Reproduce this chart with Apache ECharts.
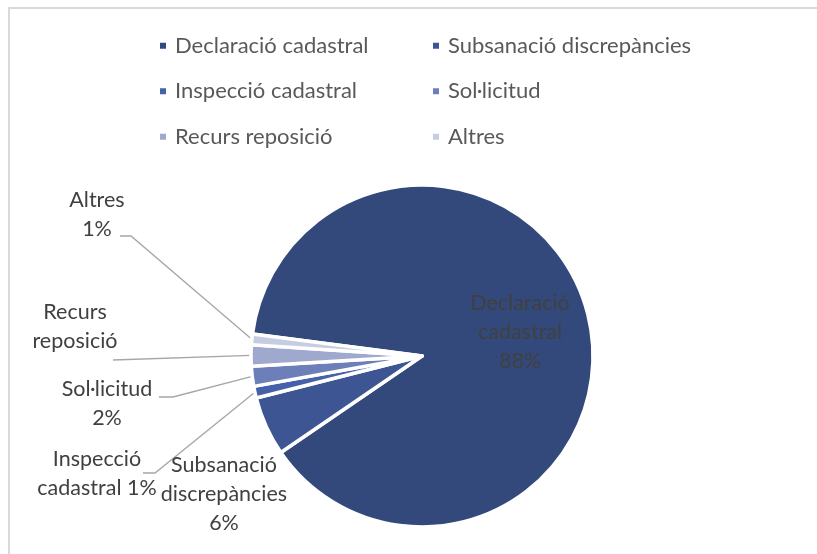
<!DOCTYPE html>
<html>
<head>
<meta charset="utf-8">
<script src="https://cdn.jsdelivr.net/npm/echarts@6/dist/echarts.min.js"></script>
<style>
  html, body { margin: 0; padding: 0; background: #fff; }
  #chart { width: 817px; height: 554px; }
</style>
</head>
<body>
<div id="chart"></div>
<script>
// ---- data ----
const categories = ['Declaració cadastral', 'Subsanació discrepàncies', 'Inspecció cadastral', 'Sol·licitud', 'Recurs reposició', 'Altres'];
const values = [88.4, 5.6, 1.1, 1.9, 2.0, 1.0];
const labelTexts = ['Declaració\ncadastral\n{p}', 'Subsanació\ndiscrepàncies\n{p}', 'Inspecció\ncadastral {p}', 'Sol·licitud\n{p}', 'Recurs\nreposició', 'Altres\n{p}'];

// ---- styles / layout ----
const colors = ['#34497b', '#3d5592', '#4661a9', '#6c7fb8', '#9ea9cd', '#c6cce2'];
const labelPos = [[520, 332], [224, 494], [97, 474], [107, 404], [75, 327], [97, 215]];
const lineBends = [null, null, [[155, 473], [143, 473]], [[173, 397], [159, 397]], [[113, 360], [113, 360]], [[131, 236], [120, 236]]];
const FONT = 'Lato';

const chart = echarts.init(document.getElementById('chart'), null, { renderer: 'canvas' });

const data = categories.map((name, i) => ({
  name,
  value: values[i],
  itemStyle: { color: colors[i] },
  label: i === 0 ? { position: 'inside' } : { position: 'outside' },
  labelLine: { show: !!lineBends[i] }
}));

chart.setOption({
  backgroundColor: '#ffffff',
  animation: false,
  graphic: [{
    type: 'rect',
    shape: { x: 9, y: 8, width: 1000, height: 800 },
    style: { fill: 'none', stroke: '#d9d9d9', lineWidth: 2 },
    silent: true, z: -10
  }],
  legend: {
    data: categories,
    left: 158,
    top: 26,
    padding: 0,
    width: 560,
    orient: 'horizontal',
    icon: 'rect',
    itemWidth: 8,
    itemHeight: 8,
    itemGap: 6,
    textStyle: { fontFamily: FONT, fontSize: 22, color: '#595959', width: 250, lineHeight: 39.5, padding: [0, 0, 0, 3] }
  },
  series: [{
    type: 'pie',
    center: [422, 356],
    radius: 171,
    startAngle: 172.6,
    clockwise: true,
    avoidLabelOverlap: false,
    itemStyle: { borderColor: '#ffffff', borderWidth: 3.5 },
    label: {
      fontFamily: FONT,
      fontSize: 21.5,
      lineHeight: 29,
      color: '#404040',
      align: 'center',
      formatter: p => labelTexts[p.dataIndex].replace('{p}', Math.round(p.percent) + '%')
    },
    labelLine: { lineStyle: { color: '#a6a6a6', width: 1.3 }, length: 20, length2: 20 },
    labelLayout: function (params) {
      const i = params.dataIndex;
      const out = { x: labelPos[i][0], y: labelPos[i][1], align: 'center', verticalAlign: 'middle' };
      if (lineBends[i] && params.labelLinePoints) {
        out.labelLinePoints = [params.labelLinePoints[0], lineBends[i][0], lineBends[i][1]];
      }
      return out;
    },
    data
  }]
});
</script>
</body>
</html>
